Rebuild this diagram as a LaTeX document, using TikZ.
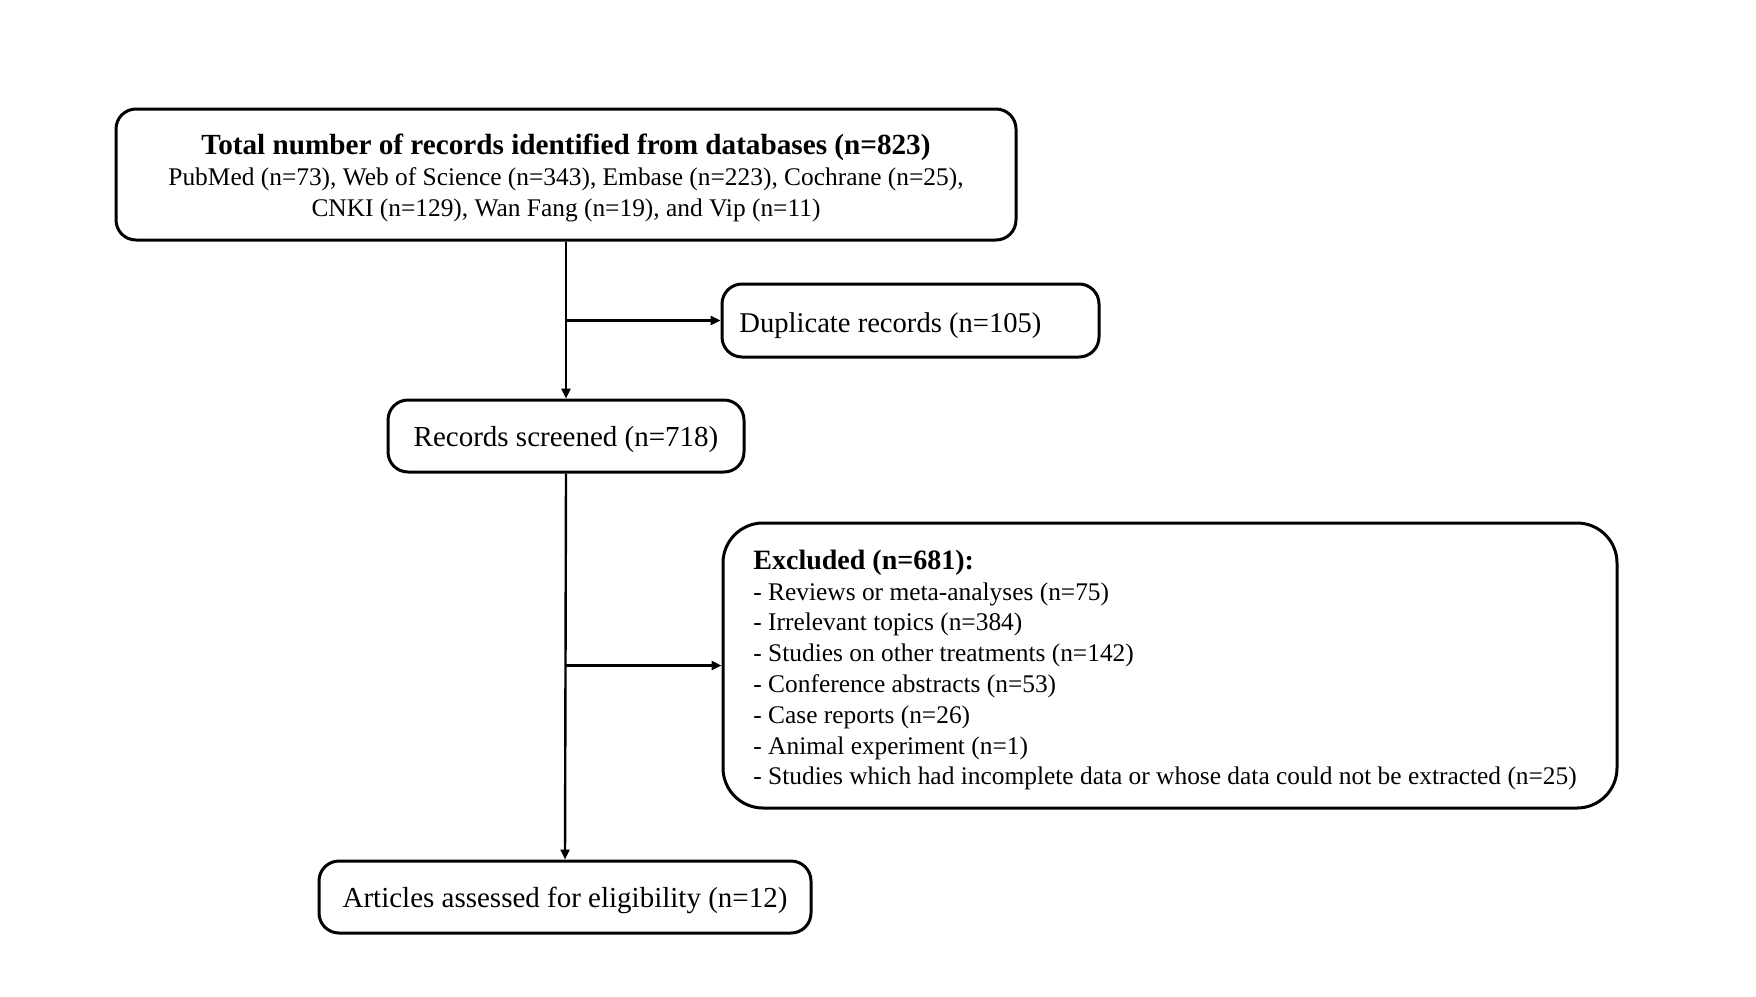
\documentclass[tikz,border=0pt]{standalone}
\usepackage{fontspec}
\setmainfont{Liberation Serif}
\usetikzlibrary{arrows.meta}
\tikzset{
  box/.style={draw=black, line width=1.5pt, rounded corners=10pt, inner sep=0pt, align=center},
  onebox/.style={box, text depth=0pt, font=\fontsize{14.5pt}{17pt}\selectfont},
  txt/.style={inner sep=0pt, anchor=west, align=left},
  conn/.style={draw=black, line width=1.2pt},
  arr/.style={conn, -{Triangle[length=5pt,width=4.5pt]}},
}
\begin{document}
\begin{tikzpicture}[x=0.5pt,y=-0.5pt]
\useasboundingbox[fill=white] (0,0) rectangle (1756,996);
\node[box, minimum width=450pt, minimum height=65.5pt] (top) at (566,174.5) {};
\node[inner sep=0pt, align=center, font=\fontsize{12.7pt}{15.6pt}\selectfont] (toptext) at (566,178)
 {{\fontsize{14.6pt}{15.6pt}\selectfont\bfseries Total number of records identified from databases (n=823)}\\
  PubMed (n=73), Web of Science (n=343), Embase (n=223), Cochrane (n=25),\\
  CNKI (n=129), Wan Fang (n=19), and Vip (n=11)};
\node[box, minimum width=188.5pt, minimum height=36.5pt] (dup) at (910.5,320.5) {};
\node[txt, font=\fontsize{14.3pt}{17pt}\selectfont] (duptext) at (739,325.5) {Duplicate records (n=105)};
\node[onebox, minimum width=178pt, minimum height=36pt] (scr) at (566,436) {Records screened (n=718)};
\node[box, rounded corners=20pt, minimum width=447pt, minimum height=142.5pt] (exc) at (1170,665.5) {};
\node[txt, font=\fontsize{12.7pt}{15.4pt}\selectfont] (exctext) at (753,670)
 {{\fontsize{14pt}{15.4pt}\selectfont\bfseries Excluded (n=681):}\\
  - Reviews or meta-analyses (n=75)\\
  - Irrelevant topics (n=384)\\
  - Studies on other treatments (n=142)\\
  - Conference abstracts (n=53)\\
  - Case reports (n=26)\\
  - Animal experiment (n=1)\\
  - Studies which had incomplete data or whose data could not be extracted (n=25)};
\node[onebox, minimum width=246pt, minimum height=36pt] (art) at (565,897) {Articles assessed for eligibility (n=12)};
\coordinate (b1) at (top.south |- dup.west);
\coordinate (b2) at (scr.south |- exc.west);
\draw[arr] (top.south) -- (scr.north);
\draw[arr] (b1) -- (dup.west);
\draw[arr] (scr.south) -- (art.north);
\draw[arr] (b2) -- (exc.west);
\end{tikzpicture}
\end{document}
